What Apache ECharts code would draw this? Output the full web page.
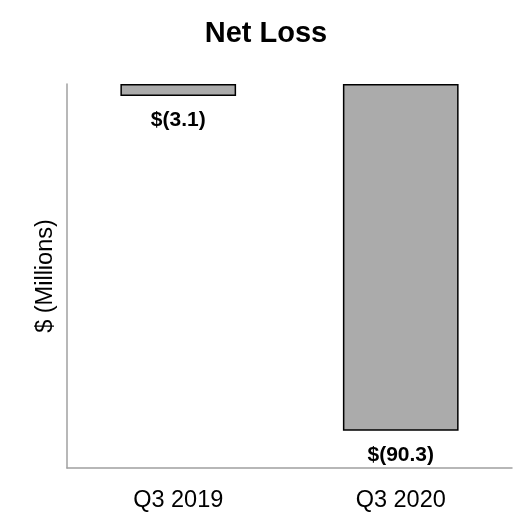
<!DOCTYPE html>
<html><head><meta charset="utf-8">
<script src="https://cdn.jsdelivr.net/npm/echarts@6/dist/echarts.min.js"></script>
<style>html,body{margin:0;padding:0;background:#fff}#c{width:532px;height:532px}</style>
</head><body><div id="c"></div>
<script>
const categories = ['Q3 2019', 'Q3 2020'];
const netLoss = [-3.1, -90.3];
const labels = ['$(3.1)', '$(90.3)'];

const chart = echarts.init(document.getElementById('c'));
chart.setOption({
  animation: false,
  backgroundColor: '#fff',
  title: {
    text: 'Net Loss', left: 'center', top: 14,
    textStyle: { fontFamily: 'Liberation Sans, Arial', fontSize: 29, fontWeight: 'bold', color: '#000' }
  },
  grid: { left: 67, right: 20, top: 84, bottom: 64 },
  xAxis: {
    type: 'category', data: categories, position: 'bottom',
    axisLine: { onZero: false, lineStyle: { color: '#a0a0a0', width: 1.5 } },
    axisTick: { show: false },
    axisLabel: { color: '#000', fontFamily: 'Liberation Sans, Arial', fontSize: 23.5, margin: 21 }
  },
  yAxis: {
    type: 'value', min: -100, max: 0, interval: 20,
    name: '$ (Millions)', nameLocation: 'middle', nameGap: 9,
    nameTextStyle: { color: '#000', fontFamily: 'Liberation Sans, Arial', fontSize: 23.5 },
    axisLine: { show: true, lineStyle: { color: '#a0a0a0', width: 1.5 } },
    axisTick: { show: false }, axisLabel: { show: false }, splitLine: { show: false }
  },
  series: [{
    type: 'bar', data: netLoss, barWidth: '52%',
    itemStyle: { color: '#ababab', borderColor: '#000', borderWidth: 1.5 },
    label: {
      show: true, position: 'bottom', distance: 14,
      formatter: p => labels[p.dataIndex],
      color: '#000', fontFamily: 'Liberation Sans, Arial', fontSize: 21, fontWeight: 'bold'
    }
  }]
});
</script></body></html>
